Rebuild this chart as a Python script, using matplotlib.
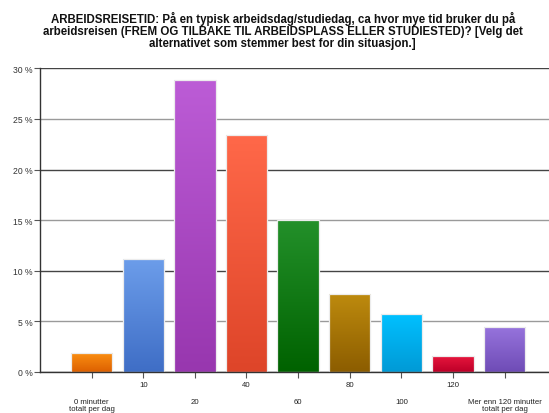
import matplotlib
matplotlib.use("Agg")
import matplotlib.pyplot as plt
import numpy as np
from matplotlib.colors import LinearSegmentedColormap
from matplotlib.ticker import FixedLocator

plt.rcParams['font.family'] = ['Liberation Sans', 'DejaVu Sans']

# Survey answers: share of respondents per commute-time bracket (percent)
categories = ["0 minutter\ntotalt per dag", "10", "20", "40", "60", "80", "100", "120",
              "Mer enn 120 minutter\ntotalt per dag"]
shares = [1.87, 11.2, 28.85, 23.4, 15.05, 7.67, 5.72, 1.6, 4.47]

# top / bottom colour of each bar's vertical gradient
top_colors = ["#FA8E12", "#6C9DEA", "#BC5CD6", "#FF6849", "#23902A", "#BD8A0E", "#00C0FF", "#E8173E", "#9774DD"]
bottom_colors = ["#DD6000", "#3F6EC6", "#9837AF", "#DE4529", "#006200", "#8C5D00", "#009AD6", "#BE0028", "#6F4CB6"]

y_ticks = [0, 5, 10, 15, 20, 25, 30]
y_tick_labels = ["0 %", "5 %", "10 %", "15 %", "20 %", "25 %", "30 %"]

title = ("ARBEIDSREISETID: På en typisk arbeidsdag/studiedag, ca hvor mye tid bruker du på\n"
         "arbeidsreisen (FREM OG TILBAKE TIL ARBEIDSPLASS ELLER STUDIESTED)? [Velg det\n"
         "alternativet som stemmer best for din situasjon.]")

fig = plt.figure(figsize=(5.49, 4.14), dpi=100)
ax = fig.add_axes([40 / 549, 1 - 373 / 414, 1 - 40 / 549, (373 - 69.3) / 414])

x = np.arange(len(categories))
width = 0.8
bars = ax.bar(x, shares, width=width, color="none", edgecolor="#ECECEC", linewidth=0.9, zorder=3)

for rect, c_top, c_bot in zip(bars, top_colors, bottom_colors):
    cmap = LinearSegmentedColormap.from_list("g", [c_bot, c_top])
    grad = np.linspace(0, 1, 64).reshape(-1, 1)
    x0, y0 = rect.get_x(), rect.get_y()
    im = ax.imshow(grad, cmap=cmap, origin="lower", aspect="auto", interpolation="bicubic",
                   extent=(x0, x0 + rect.get_width(), y0, y0 + rect.get_height()), zorder=2)
    im.set_clip_path(rect)

ax.set_xlim(-1, 8.86)
ax.set_ylim(0, 30)

ax.set_yticks(y_ticks)
ax.set_yticklabels(y_tick_labels)
ax.yaxis.grid(True, linewidth=1.0, zorder=0)
for i, gl in enumerate(ax.get_ygridlines()):
    gl.set_color("#444444" if i % 2 == 0 else "#9A9A9A")
ax.set_axisbelow(True)

# staggered category labels: odd positions on major ticks, even on minor ticks further down
ax.xaxis.set_major_locator(FixedLocator(x[1::2]))
ax.set_xticklabels(categories[1::2])
ax.xaxis.set_minor_locator(FixedLocator(x[0::2]))
ax.set_xticklabels(categories[0::2], minor=True)
ax.tick_params(axis="x", which="both", length=4, width=0.8, color="#555555",
               labelsize=5.6, labelcolor="#222222")
ax.tick_params(axis="x", which="major", pad=2.5)
ax.tick_params(axis="x", which="minor", pad=15)
for lbl in ax.get_xticklabels(minor=True):
    lbl.set_linespacing(1.0)
ax.tick_params(axis="y", length=4, width=0.8, color="#555555", labelsize=6.2,
               labelcolor="#333333", pad=1.5)

for side in ("top", "right"):
    ax.spines[side].set_visible(False)
ax.spines["left"].set_color("#333333")
ax.spines["bottom"].set_color("#333333")
ax.spines["left"].set_linewidth(1.0)
ax.spines["bottom"].set_linewidth(1.0)
ax.spines["left"].set_zorder(4)
ax.spines["bottom"].set_zorder(4)

fig.text(0.515, 1 - 11.5 / 414, title, ha="center", va="top", fontsize=8.3, fontweight="bold",
         color="#111111", linespacing=1.0)

fig.savefig("out.png", dpi=100, facecolor="white")
